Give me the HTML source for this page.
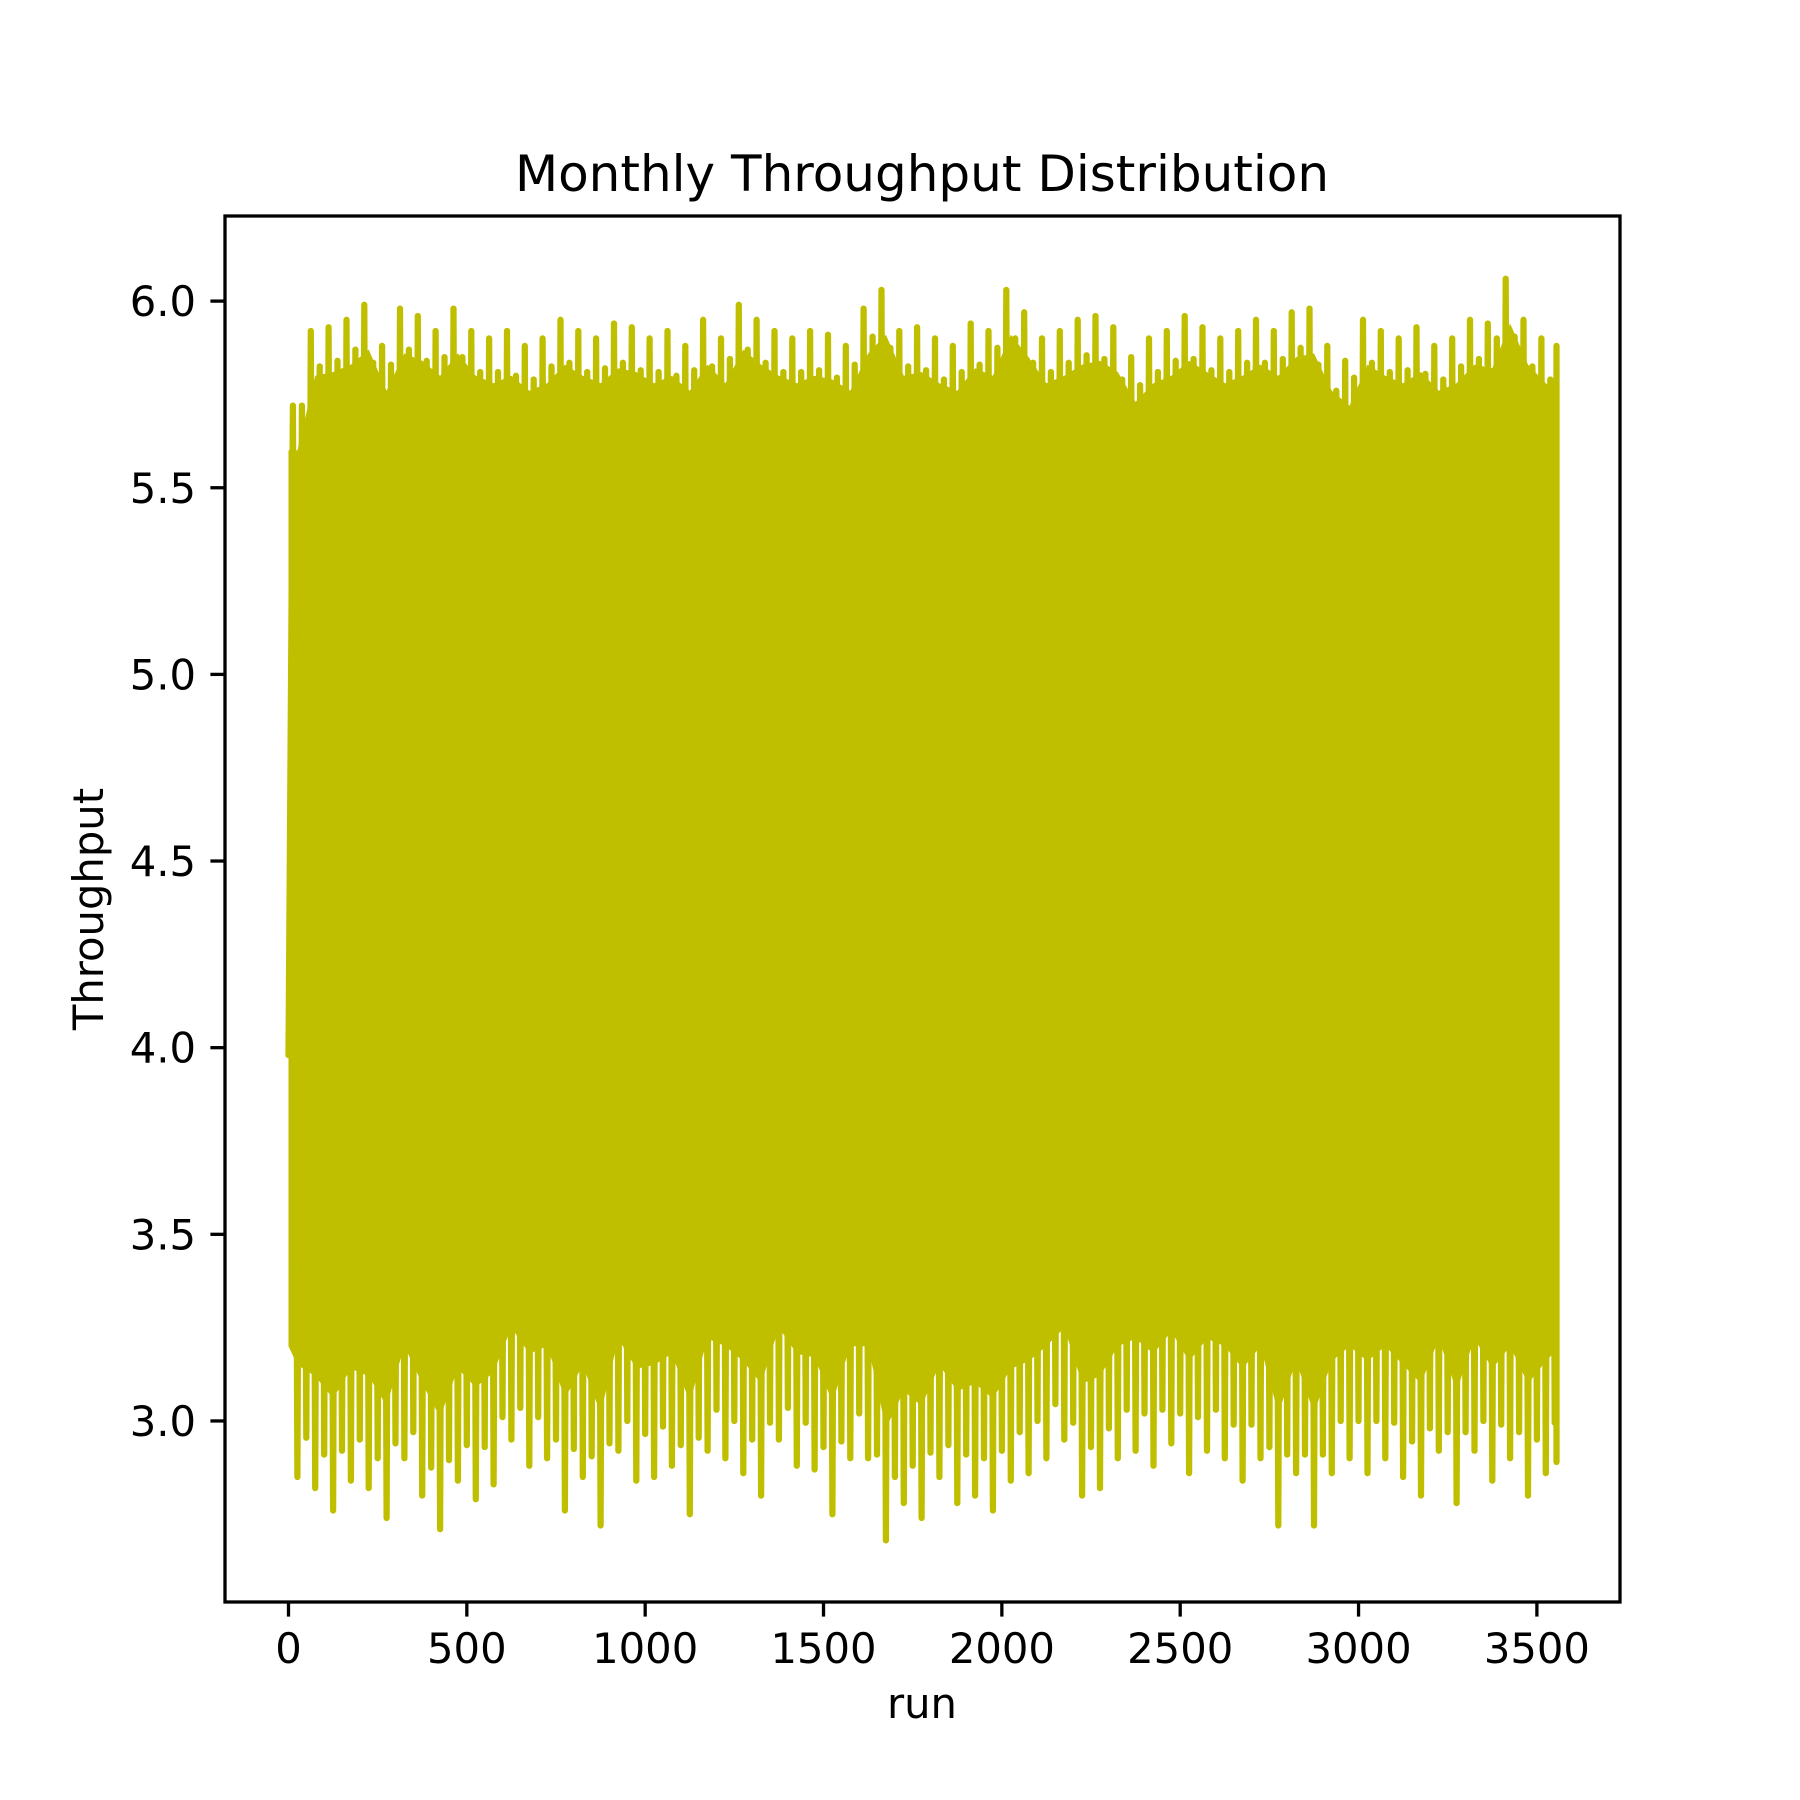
<!DOCTYPE html>
<html><head><meta charset="utf-8">
<style>
html,body{margin:0;padding:0;background:#fff;}
svg{display:block;font-family:"DejaVu Sans","Liberation Sans",sans-serif;}
</style></head>
<body>
<svg id="chart" width="1800" height="1800" viewBox="0 0 1800 1800" xmlns="http://www.w3.org/2000/svg">
<rect x="0" y="0" width="1800" height="1800" fill="#fff"/>
<g id="plot"></g>
<g id="axes"></g>
<text x="922" y="191" font-size="50" text-anchor="middle">Monthly Throughput Distribution</text>
<text x="922" y="1718" font-size="41.7" text-anchor="middle">run</text>
<text x="0" y="0" font-size="41.7" text-anchor="middle" transform="translate(103,909) rotate(-90)">Throughput</text>
</svg>
<script>
const runStep = 50;
const highs = [5.72,5.92,5.93,5.95,5.99,5.88,5.98,5.96,5.92,5.98,5.92,5.90,5.92,5.88,5.90,5.95,5.92,5.90,5.94,5.93,5.90,5.92,5.88,5.95,5.90,5.99,5.95,5.92,5.90,5.92,5.91,5.88,5.98,6.03,5.92,5.93,5.90,5.88,5.94,5.92,6.03,5.97,5.90,5.92,5.95,5.96,5.93,5.85,5.90,5.92,5.96,5.93,5.90,5.92,5.95,5.92,5.97,5.98,5.88,5.84,5.95,5.92,5.90,5.93,5.88,5.90,5.95,5.94,6.06,5.95,5.90,5.88];
const lows  = [2.85,2.82,2.76,2.84,2.82,2.74,2.90,2.80,2.71,2.84,2.79,2.83,2.95,2.88,2.90,2.76,2.85,2.72,2.92,2.84,2.85,2.88,2.75,2.92,2.90,2.86,2.80,2.95,2.88,2.87,2.75,2.90,2.90,2.68,2.78,2.74,2.85,2.78,2.80,2.76,2.84,2.86,2.90,2.95,2.80,2.82,2.90,2.92,2.88,2.94,2.86,2.92,2.90,2.84,2.90,2.72,2.86,2.72,2.86,2.90,2.86,2.90,2.85,2.80,2.92,2.78,2.92,2.84,2.90,2.80,2.86,2.89];
const xTicks = [0,500,1000,1500,2000,2500,3000,3500];
const yTicks = [3.0,3.5,4.0,4.5,5.0,5.5,6.0];
const lastRun = 3555;

const L=225,R=1620,T=216,B=1602;
const xmin=-178,xmax=3733,ymin=2.515,ymax=6.228;
const X=v=>L+(v-xmin)/(xmax-xmin)*(R-L);
const Y=v=>B-(v-ymin)/(ymax-ymin)*(B-T);
const NS="http://www.w3.org/2000/svg";
const plot=document.getElementById('plot'), axes=document.getElementById('axes');
const col="#bfbf00";

const n=highs.length;
const runAt=i=>Math.min(i*runStep+runStep/2,lastRun);
let up=[],dn=[];
for(let i=0;i<n;i++){up.push(X(runAt(i)).toFixed(1)+','+Y(highs[i]-0.12).toFixed(1));dn.unshift(X(runAt(i)).toFixed(1)+','+Y(lows[i]+0.30).toFixed(1));}
const poly=document.createElementNS(NS,'polygon');
poly.setAttribute('points',[X(0)+','+Y(5.6)].concat(up,[X(lastRun)+','+Y(5.7),X(lastRun)+','+Y(3.2)],dn,[X(0)+','+Y(3.2)]).join(' '));
poly.setAttribute('fill',col);


plot.appendChild(poly);

let pts=[X(0).toFixed(1)+','+Y(3.98).toFixed(1)];
for(let i=0;i<n;i++){
  const r0=i*runStep;
  pts.push(X(Math.min(r0+runStep*0.25,lastRun)).toFixed(1)+','+Y(highs[i]).toFixed(1));
  pts.push(X(Math.min(r0+runStep*0.5,lastRun)).toFixed(1)+','+Y(lows[i]).toFixed(1));
  pts.push(X(Math.min(r0+runStep*0.75,lastRun)).toFixed(1)+','+Y((highs[i]+highs[(i+1)%n])/2-0.1).toFixed(1));
  pts.push(X(Math.min(r0+runStep,lastRun)).toFixed(1)+','+Y((lows[i]+lows[(i+1)%n])/2+0.12).toFixed(1));
}
pts.push(X(lastRun).toFixed(1)+','+Y(5.78).toFixed(1));
const line=document.createElementNS(NS,'polyline');
line.setAttribute('points',pts.join(' '));
line.setAttribute('fill','none');
line.setAttribute('stroke',col);
line.setAttribute('stroke-width','6.25');
line.setAttribute('stroke-linecap','round');
line.setAttribute('stroke-linejoin','round');


plot.appendChild(line);

const fr=document.createElementNS(NS,'rect');
fr.setAttribute('x',L);fr.setAttribute('y',T);fr.setAttribute('width',R-L);fr.setAttribute('height',B-T);
fr.setAttribute('fill','none');fr.setAttribute('stroke','#000');fr.setAttribute('stroke-width','3.3');


axes.appendChild(fr);

xTicks.forEach(t=>{
  const l=document.createElementNS(NS,'line');
  l.setAttribute('x1',X(t));l.setAttribute('x2',X(t));l.setAttribute('y1',B);l.setAttribute('y2',B+14.6);
  l.setAttribute('stroke','#000');l.setAttribute('stroke-width','3.3');
  
  
  axes.appendChild(l);
  const tx=document.createElementNS(NS,'text');
  tx.setAttribute('x',X(t));tx.setAttribute('y',B+61);tx.setAttribute('font-size','41.7');tx.setAttribute('text-anchor','middle');
  tx.textContent=String(t);
  
  
  axes.appendChild(tx);
});
yTicks.forEach(t=>{
  const l=document.createElementNS(NS,'line');
  l.setAttribute('x1',L-14.6);l.setAttribute('x2',L);l.setAttribute('y1',Y(t));l.setAttribute('y2',Y(t));
  l.setAttribute('stroke','#000');l.setAttribute('stroke-width','3.3');
  
  
  axes.appendChild(l);
  const tx=document.createElementNS(NS,'text');
  tx.setAttribute('x',L-29);tx.setAttribute('y',Y(t)+15);tx.setAttribute('font-size','41.7');tx.setAttribute('text-anchor','end');
  tx.textContent=t.toFixed(1);
  
  
  axes.appendChild(tx);
});
</script>
</body></html>
